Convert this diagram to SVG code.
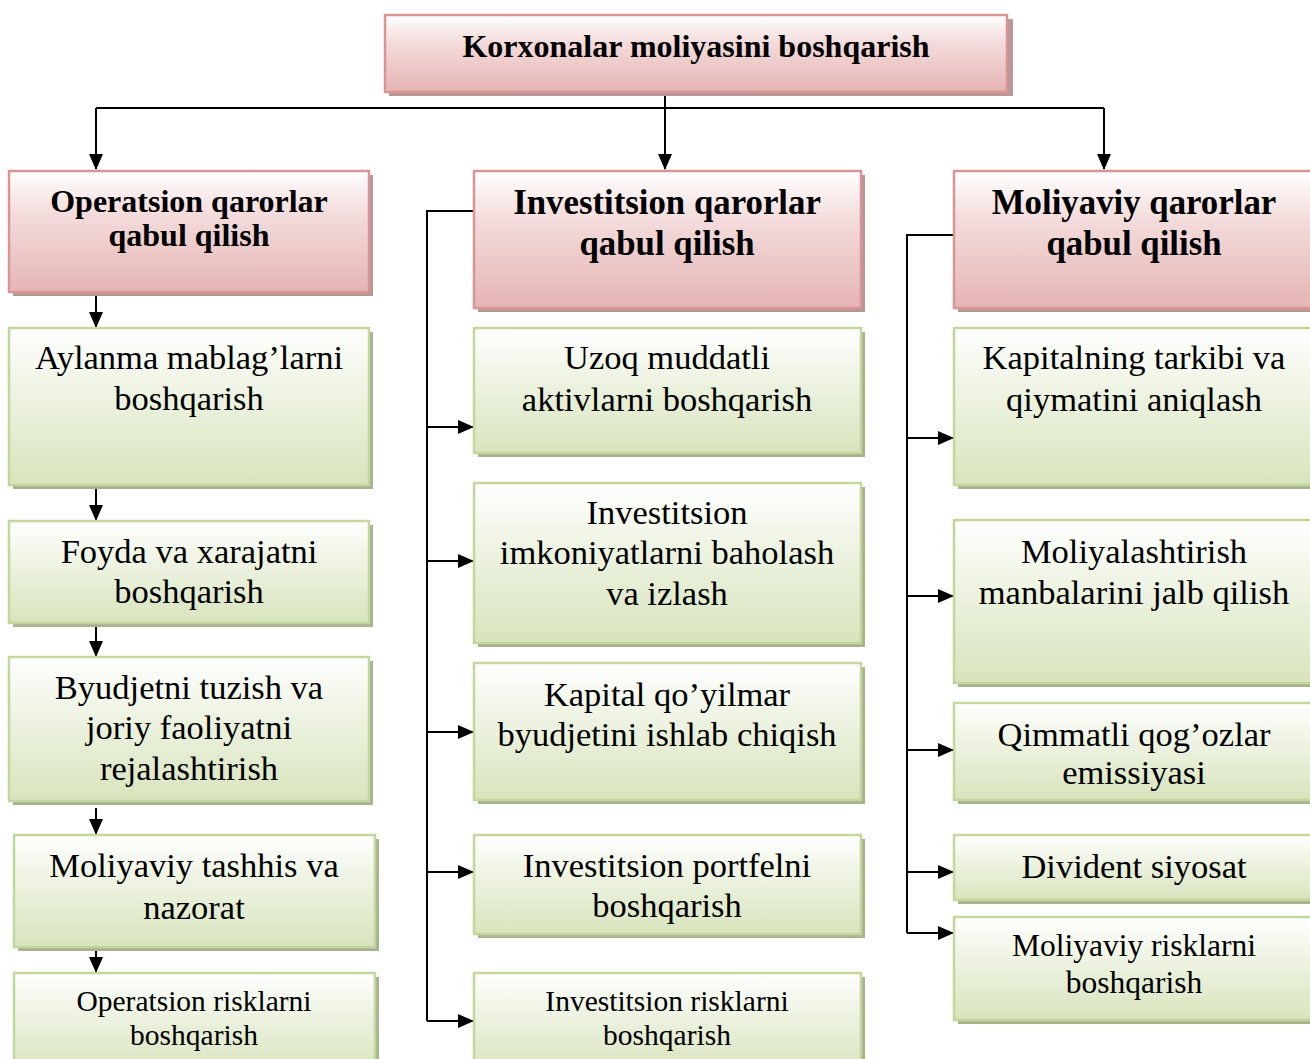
<svg xmlns="http://www.w3.org/2000/svg" width="1310" height="1059" viewBox="0 0 1310 1059">
  <defs>
    <linearGradient id="gRed" x1="0" y1="0" x2="0" y2="1">
      <stop offset="0" stop-color="#ffffff"/>
      <stop offset="0.35" stop-color="#f4dcdc"/>
      <stop offset="1" stop-color="#e5b5b4"/>
    </linearGradient>
    <linearGradient id="gGreen" x1="0" y1="0" x2="0" y2="1">
      <stop offset="0" stop-color="#ffffff"/>
      <stop offset="0.35" stop-color="#f0f5e6"/>
      <stop offset="1" stop-color="#d8e4bd"/>
    </linearGradient>
    <marker id="arrow" markerUnits="userSpaceOnUse" markerWidth="16" markerHeight="14" refX="15" refY="7" orient="auto">
      <path d="M0,0 L16,7 L0,14 Z" fill="#000"/>
    </marker>
  </defs>
  <style>
    .red { fill: url(#gRed); stroke: #d99594; stroke-width: 2.5; }
    .green { fill: url(#gGreen); stroke: #c3d69b; stroke-width: 2.5; }
    .shRed { fill: #b89596; }
    .shGreen { fill: #a8b28f; }
    .t { font-family: "Liberation Serif", "Times New Roman", serif; text-anchor: middle; fill: #000; font-size: 34.5px; }
    .b { font-weight: bold; }
    .s { font-size: 29.5px; }
    .line { fill: none; stroke: #000; stroke-width: 2; }
    .arr { fill: none; stroke: #000; stroke-width: 2; marker-end: url(#arrow); }
  </style>

  <rect width="1310" height="1059" fill="#ffffff"/>

  <!-- connectors -->
  <g id="connectors">
    <polyline class="line" points="665,92 665,108"/>
    <polyline class="line" points="96,108 1104,108"/>
    <polyline class="arr" points="96,108 96,169"/>
    <polyline class="arr" points="665,108 665,169"/>
    <polyline class="arr" points="1104,108 1104,169"/>

    <!-- operational chain -->
    <polyline class="arr" points="96,292 96,327"/>
    <polyline class="arr" points="96,483 96,520"/>
    <polyline class="arr" points="96,621 96,656"/>
    <polyline class="arr" points="96,808 96,834"/>
    <polyline class="arr" points="96,944 96,972"/>

    <!-- investment bracket -->
    <polyline class="line" points="474,211 427,211 427,1021"/>
    <polyline class="arr" points="427,427 473,427"/>
    <polyline class="arr" points="427,561 473,561"/>
    <polyline class="arr" points="427,732 473,732"/>
    <polyline class="arr" points="427,872 473,872"/>
    <polyline class="arr" points="427,1021 473,1021"/>

    <!-- financing bracket -->
    <polyline class="line" points="954,235 907,235 907,933"/>
    <polyline class="arr" points="907,438 953,438"/>
    <polyline class="arr" points="907,596 953,596"/>
    <polyline class="arr" points="907,750 953,750"/>
    <polyline class="arr" points="907,872 953,872"/>
    <polyline class="arr" points="907,933 953,933"/>
  </g>

  <!-- top node -->
  <g id="root">
    <rect class="shRed" x="389" y="19" width="624" height="77"/>
    <rect class="red" x="385" y="15" width="622" height="77"/>
    <text class="t b" x="696" y="57" style="font-size:32px">Korxonalar moliyasini boshqarish</text>
  </g>

  <!-- level 2 -->
  <g id="operatsion">
    <rect class="shRed" x="13" y="175" width="360" height="121"/>
    <rect class="red" x="9" y="171" width="360" height="121"/>
    <text class="t b" x="189" y="212" style="font-size:32px">Operatsion qarorlar</text>
    <text class="t b" x="189" y="246" style="font-size:32px">qabul qilish</text>
  </g>
  <g id="investitsion">
    <rect class="shRed" x="478" y="175" width="387" height="137"/>
    <rect class="red" x="474" y="171" width="387" height="137"/>
    <text class="t b" x="667" y="214" style="font-size:34.8px">Investitsion qarorlar</text>
    <text class="t b" x="667" y="255" style="font-size:34.8px">qabul qilish</text>
  </g>
  <g id="moliyaviy">
    <rect class="shRed" x="958" y="175" width="360" height="137"/>
    <rect class="red" x="954" y="171" width="360" height="137"/>
    <text class="t b" x="1134" y="214" style="font-size:34.8px">Moliyaviy qarorlar</text>
    <text class="t b" x="1134" y="255" style="font-size:34.8px">qabul qilish</text>
  </g>

  <!-- operational column -->
  <g id="aylanma">
    <rect class="shGreen" x="13" y="332" width="360" height="157"/>
    <rect class="green" x="9" y="328" width="360" height="157"/>
    <text class="t" x="189" y="369">Aylanma mablag’larni</text>
    <text class="t" x="189" y="410">boshqarish</text>
  </g>
  <g id="foyda">
    <rect class="shGreen" x="13" y="525" width="360" height="102"/>
    <rect class="green" x="9" y="521" width="360" height="102"/>
    <text class="t" x="189" y="563">Foyda va xarajatni</text>
    <text class="t" x="189" y="603">boshqarish</text>
  </g>
  <g id="byudjet">
    <rect class="shGreen" x="13" y="661" width="360" height="144"/>
    <rect class="green" x="9" y="657" width="360" height="144"/>
    <text class="t" x="189" y="699">Byudjetni tuzish va</text>
    <text class="t" x="189" y="739">joriy faoliyatni</text>
    <text class="t" x="189" y="780">rejalashtirish</text>
  </g>
  <g id="tashhis">
    <rect class="shGreen" x="18" y="839" width="361" height="112"/>
    <rect class="green" x="14" y="835" width="361" height="112"/>
    <text class="t" x="194" y="877">Moliyaviy tashhis va</text>
    <text class="t" x="194" y="919">nazorat</text>
  </g>
  <g id="op-risk">
    <rect class="shGreen" x="18" y="977" width="361" height="100"/>
    <rect class="green" x="14" y="973" width="361" height="100"/>
    <text class="t s" x="194" y="1011">Operatsion risklarni</text>
    <text class="t s" x="194" y="1045">boshqarish</text>
  </g>

  <!-- investment column -->
  <g id="uzoq">
    <rect class="shGreen" x="478" y="332" width="387" height="125"/>
    <rect class="green" x="474" y="328" width="387" height="125"/>
    <text class="t" x="667" y="369">Uzoq muddatli</text>
    <text class="t" x="667" y="411">aktivlarni boshqarish</text>
  </g>
  <g id="imkoniyat">
    <rect class="shGreen" x="478" y="487" width="387" height="160"/>
    <rect class="green" x="474" y="483" width="387" height="160"/>
    <text class="t" x="667" y="524">Investitsion</text>
    <text class="t" x="667" y="564">imkoniyatlarni baholash</text>
    <text class="t" x="667" y="605">va izlash</text>
  </g>
  <g id="kapital">
    <rect class="shGreen" x="478" y="667" width="387" height="137"/>
    <rect class="green" x="474" y="663" width="387" height="137"/>
    <text class="t" x="667" y="706">Kapital qo’yilmar</text>
    <text class="t" x="667" y="746">byudjetini ishlab chiqish</text>
  </g>
  <g id="portfel">
    <rect class="shGreen" x="478" y="839" width="387" height="99"/>
    <rect class="green" x="474" y="835" width="387" height="99"/>
    <text class="t" x="667" y="877">Investitsion portfelni</text>
    <text class="t" x="667" y="917">boshqarish</text>
  </g>
  <g id="inv-risk">
    <rect class="shGreen" x="478" y="977" width="387" height="100"/>
    <rect class="green" x="474" y="973" width="387" height="100"/>
    <text class="t s" x="667" y="1011">Investitsion risklarni</text>
    <text class="t s" x="667" y="1045">boshqarish</text>
  </g>

  <!-- financing column -->
  <g id="kapitalning">
    <rect class="shGreen" x="958" y="332" width="360" height="157"/>
    <rect class="green" x="954" y="328" width="360" height="157"/>
    <text class="t" x="1134" y="369">Kapitalning tarkibi va</text>
    <text class="t" x="1134" y="411">qiymatini aniqlash</text>
  </g>
  <g id="moliyalashtirish">
    <rect class="shGreen" x="958" y="524" width="360" height="163"/>
    <rect class="green" x="954" y="520" width="360" height="163"/>
    <text class="t" x="1134" y="563">Moliyalashtirish</text>
    <text class="t" x="1134" y="604">manbalarini jalb qilish</text>
  </g>
  <g id="qimmatli">
    <rect class="shGreen" x="958" y="707" width="360" height="97"/>
    <rect class="green" x="954" y="703" width="360" height="97"/>
    <text class="t" x="1134" y="746">Qimmatli qog’ozlar</text>
    <text class="t" x="1134" y="784">emissiyasi</text>
  </g>
  <g id="divident">
    <rect class="shGreen" x="958" y="839" width="360" height="65"/>
    <rect class="green" x="954" y="835" width="360" height="65"/>
    <text class="t" x="1134" y="878">Divident siyosat</text>
  </g>
  <g id="mol-risk">
    <rect class="shGreen" x="958" y="921" width="360" height="103"/>
    <rect class="green" x="954" y="917" width="360" height="103"/>
    <text class="t" x="1134" y="956" style="font-size:31.5px">Moliyaviy risklarni</text>
    <text class="t" x="1134" y="993" style="font-size:31.5px">boshqarish</text>
  </g>
</svg>
